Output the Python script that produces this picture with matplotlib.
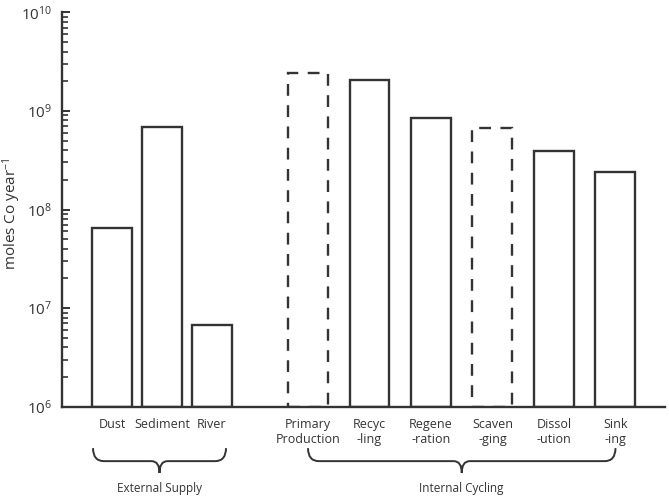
import numpy as np
import matplotlib
matplotlib.use("Agg")
import matplotlib.pyplot as plt
from matplotlib.path import Path
from matplotlib.patches import PathPatch

plt.rcParams['font.family'] = ['Open Sans', 'DejaVu Sans']
plt.rcParams['mathtext.default'] = 'regular'

# datos
ext_labels = ['Dust', 'Sediment', 'River']
ext_values = [6.4e7, 6.8e8, 5.8e6]
int_labels = ['Primary\nProduction', 'Recyc\n-ling', 'Regene\n-ration',
              'Scaven\n-ging', 'Dissol\n-ution', 'Sink\n-ing']
int_values = [2.4e9, 2.07e9, 8.5e8, 6.7e8, 3.9e8, 2.4e8]
int_dashed = [True, False, False, True, False, False]
group_labels = ['External Supply', 'Internal Cycling']

col = '#333333'

fig = plt.figure(figsize=(6.69, 4.98), dpi=100)
ax = fig.add_axes([0.0927, 0.1833, 0.9013, 0.792])

ext_pos = np.arange(len(ext_labels))
int_pos = 3.92 + 1.23 * np.arange(len(int_labels))

ax.bar(ext_pos, ext_values, width=0.8, bottom=1e6, fill=False,
       edgecolor=col, linewidth=1.7)
for x, v, d in zip(int_pos, int_values, int_dashed):
    ax.bar(x, v, width=0.8, bottom=1e6, fill=False, edgecolor=col,
           linewidth=1.7, linestyle=(0, (5, 4)) if d else '-')

ax.set_yscale('log')
ax.set_ylim(1e6, 1e10)
ax.set_xlim(-1.0, 11.06)

ax.set_xticks(list(ext_pos) + list(int_pos))
ax.set_xticklabels(ext_labels + int_labels, fontsize=9, color=col,
                   linespacing=1.2, va='top')
ax.tick_params(axis='x', length=0, pad=8)
ax.tick_params(axis='y', which='major', direction='in', length=6, width=1.4,
               color=col, labelsize=11, labelcolor=col, pad=7)
ax.tick_params(axis='y', which='minor', direction='in', length=4, width=1.2,
               color=col)
ax.set_yticks([1e6, 1e7, 1e8, 1e9, 1e10])
ax.set_yticklabels([f'$10^{{{e}}}$' for e in range(6, 11)])

for s in ['top', 'right']:
    ax.spines[s].set_visible(False)
for s in ['left', 'bottom']:
    ax.spines[s].set_color(col)
    ax.spines[s].set_linewidth(1.7)

ax.set_ylabel('moles Co year$^{-1}$', fontsize=11, color=col)
ax.yaxis.set_label_coords(-0.064, 0.49)


# llaves bajo las etiquetas
def brace(x0, x1, label):
    xc = (x0 + x1) / 2
    yt, ym, yp = -0.105, -0.138, -0.168
    r, rm = 0.22, 0.16
    verts = [(x0, yt), (x0, ym), (x0 + r, ym),
             (xc - rm, ym), (xc, ym), (xc, yp),
             (xc, ym), (xc + rm, ym),
             (x1 - r, ym), (x1, ym), (x1, yt)]
    codes = [Path.MOVETO, Path.CURVE3, Path.CURVE3,
             Path.LINETO, Path.CURVE3, Path.CURVE3,
             Path.CURVE3, Path.CURVE3,
             Path.LINETO, Path.CURVE3, Path.CURVE3]
    p = PathPatch(Path(verts, codes), fill=False, edgecolor=col, lw=1.4,
                  transform=ax.get_xaxis_transform(), clip_on=False)
    ax.add_patch(p)
    ax.text(xc, -0.207, label, transform=ax.get_xaxis_transform(),
            ha='center', va='center', fontsize=8.5, color=col)


brace(ext_pos[0] - 0.38, ext_pos[-1] + 0.28, group_labels[0])
brace(int_pos[0], int_pos[-1], group_labels[1])

fig.savefig('out.png', dpi=100)
